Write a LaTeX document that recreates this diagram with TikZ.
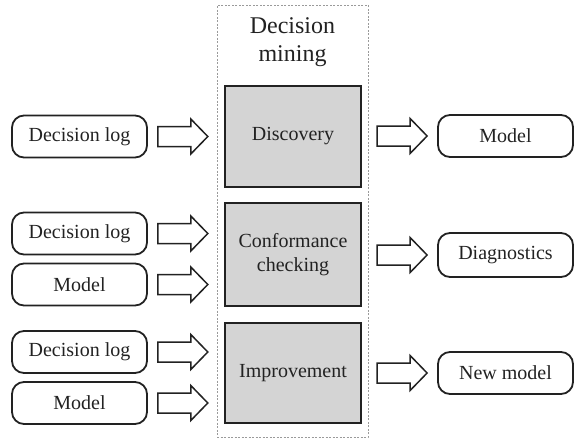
\documentclass[tikz,border=0pt]{standalone}
\usepackage{fontspec}
\setmainfont{Liberation Serif}
\usetikzlibrary{calc}
\definecolor{boxgray}{HTML}{D4D4D4}
\definecolor{framegray}{HTML}{9A9A9A}
\definecolor{inkdark}{HTML}{222222}

% hollow block arrow from a start point to a tip point (same height)
\newcommand\fatarrow[2]{%
  \draw[blockarrow] let \p1=(#1), \p2=(#2) in
    (\x1,\y1+10pt) -- (\x2-17pt,\y1+10pt) -- (\x2-17pt,\y1+17.5pt) --
    (\x2,\y1) -- (\x2-17pt,\y1-17.5pt) -- (\x2-17pt,\y1-10pt) --
    (\x1,\y1-10pt) -- cycle;}

\tikzset{
  databox/.style={draw=inkdark, line width=1.8pt, rounded corners=12pt,
    minimum width=135pt, minimum height=42pt, inner sep=0pt,
    text=inkdark, font=\fontsize{20}{24}\selectfont},
  stagebox/.style={draw=inkdark, line width=2.4pt, fill=boxgray,
    minimum width=136pt, inner sep=0pt, align=center,
    text=inkdark, font=\fontsize{20}{24}\selectfont},
  container/.style={draw=framegray, line width=0.8pt,
    dash pattern=on 2pt off 1.5pt, minimum width=151pt,
    minimum height=432pt, inner sep=0pt},
  blockarrow/.style={draw=inkdark, line width=1.5pt, fill=white,
    line join=miter},
}

\begin{document}
\begin{tikzpicture}[x=1pt, y=-1pt]
  \useasboundingbox (0,0) rectangle (576,440);

  % decision mining frame and title
  \node[container] (dm) at (292.5,221) {};
  \node[text=inkdark, align=center, font=\fontsize{24}{28}\selectfont]
    (title) at (292.5,42) {Decision\\mining};

  % the three decision mining tasks
  \node[stagebox, minimum height=101pt] (disc) at (293,136.5) {Discovery};
  \node[stagebox, minimum height=103pt] (conf) at (293,254.5) {Conformance\\checking};
  \node[stagebox, minimum height=100pt] (impr) at (293,373) {Improvement};

  % inputs
  \node[databox] (logA)   at (79.5,136.5) {Decision log};
  \node[databox] (logB)   at (79.5,233.5) {Decision log};
  \node[databox] (modelB) at (79.5,284.5) {Model};
  \node[databox] (logC)   at (79.5,352)   {Decision log};
  \node[databox] (modelC) at (79.5,403)   {Model};

  % outputs
  \node[databox] (outA) at (505.5,136)  {Model};
  \node[databox, minimum height=44pt] (outB) at (505.5,255) {Diagnostics};
  \node[databox] (outC) at (505.5,373)  {New model};

  % input arrows
  \fatarrow{$(logA.east)+(10,0)$}{$(logA.east -| disc.west)+(-16,0)$}
  \fatarrow{$(logB.east)+(10,0)$}{$(logB.east -| conf.west)+(-16,0)$}
  \fatarrow{$(modelB.east)+(10,0)$}{$(modelB.east -| conf.west)+(-16,0)$}
  \fatarrow{$(logC.east)+(10,0)$}{$(logC.east -| impr.west)+(-16,0)$}
  \fatarrow{$(modelC.east)+(10,0)$}{$(modelC.east -| impr.west)+(-16,0)$}

  % output arrows
  \fatarrow{$(outA.west -| disc.east)+(15,0)$}{$(outA.west)+(-10,0)$}
  \fatarrow{$(outB.west -| conf.east)+(15,0)$}{$(outB.west)+(-10,0)$}
  \fatarrow{$(outC.west -| impr.east)+(15,0)$}{$(outC.west)+(-10,0)$}
\end{tikzpicture}
\end{document}
